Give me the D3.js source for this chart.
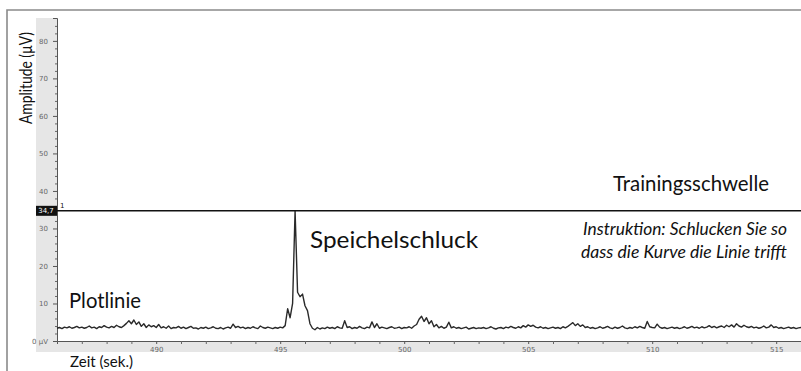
<!DOCTYPE html>
<html>
<head>
<meta charset="utf-8">
<script src="https://cdn.jsdelivr.net/npm/d3@7"></script>
<style>
  body { margin: 0; background: #fff; }
  svg { display: block; }
  .tick text { font-family: "DejaVu Sans", sans-serif; font-size: 7px; fill: #666; }
  .lbl { font-family: Lato, "Open Sans", sans-serif; fill: #111; }
</style>
</head>
<body>
<div id="chart"></div>
<script>
// EMG amplitude trace, sampled every 0.1 s from 486.0 s
var startTime = 486.0, stepTime = 0.1;
var amplitude = [
  3.4,3.6,3.3,3.7,3.5,3.8,3.4,3.6,3.9,3.5,
  3.7,3.4,3.6,4.0,3.5,3.7,3.3,3.8,3.6,4.1,
  3.7,3.5,3.9,3.6,4.2,3.8,3.6,4.1,4.7,5.4,
  4.6,5.6,4.4,5.1,3.9,4.6,3.6,4.3,3.8,4.1,
  3.6,4.4,3.5,3.8,3.4,4.0,3.3,3.6,3.5,3.9,
  3.4,3.7,3.3,3.6,3.9,3.4,3.5,3.2,3.6,3.4,
  3.7,3.3,3.5,3.8,3.4,3.3,3.6,3.2,3.5,3.7,
  3.4,4.5,3.6,3.9,3.5,3.7,3.3,3.6,3.4,3.8,
  3.5,3.3,4.0,3.6,3.4,3.7,3.5,3.3,3.6,3.4,
  3.7,3.5,4.1,8.6,6.2,10.0,34.7,13.0,11.8,12.5,
  9.4,8.1,4.6,3.4,3.0,3.6,3.2,3.5,3.3,3.7,
  3.4,3.6,3.3,3.8,3.5,3.4,5.4,3.6,3.8,3.3,
  3.6,3.4,3.9,3.5,3.3,3.7,3.5,5.1,3.6,4.6,
  3.4,3.7,3.5,3.3,3.6,3.8,3.4,3.5,3.7,3.3,
  3.6,3.5,3.8,3.4,4.0,4.4,5.8,6.6,5.2,6.2,
  4.6,5.4,3.8,4.4,3.5,3.9,3.4,3.7,5.0,3.5,
  3.8,3.4,3.6,3.3,3.5,3.7,3.2,3.4,3.6,3.3,
  3.5,3.4,3.6,3.3,3.5,3.8,3.4,3.2,3.5,3.6,
  3.3,3.7,3.5,3.9,3.6,3.4,3.8,3.5,4.1,3.7,
  4.3,3.9,4.2,3.7,3.5,3.8,3.4,3.6,3.3,3.5,
  3.7,3.4,3.6,3.3,3.8,3.5,3.9,4.4,4.9,4.1,
  4.6,3.9,4.3,3.6,3.8,3.4,3.6,3.3,3.5,3.8,
  3.4,3.6,3.9,3.5,3.3,3.7,3.4,3.6,4.0,3.5,
  3.3,3.6,3.4,3.8,3.5,3.9,3.6,3.4,5.2,3.8,
  3.6,3.5,4.5,3.7,3.4,3.6,3.3,3.5,3.7,3.4,
  3.6,3.3,3.5,3.8,3.4,3.6,3.9,3.5,3.7,3.4,
  3.8,3.5,3.7,4.1,3.6,3.9,3.5,3.8,4.0,3.6,
  4.2,3.8,4.3,3.7,4.6,4.0,3.7,4.2,3.8,3.6,
  3.9,3.5,3.7,3.4,3.6,4.0,3.5,3.7,4.3,3.6,
  3.8,3.4,3.6,3.3,3.5,3.7,3.4,3.6,3.3,3.5,
  3.6
];
var threshold = 34.7;
var yTicks = [0, 10, 20, 30, 40, 50, 60, 70, 80];
var yMinor = [2,4,6,8,12,14,16,18,22,24,26,28,32,34,36,38,42,44,46,48,52,54,56,58,62,64,66,68,72,74,76,78,82,84];
var xTicks = [490, 495, 500, 505, 510, 515];
var xMinor = [487,488,489,491,492,493,494,496,497,498,499,501,502,503,504,506,507,508,509,511,512,513,514,516];

var width = 801, height = 371;
var plotLeft = 57, plotRight = 801, plotTop = 18, plotBottom = 341, bandLeft = 36, bandBottom = 352;

var svg = d3.select("#chart").append("svg")
    .attr("width", width)
    .attr("height", height);

var x = d3.scaleLinear().domain([486, 516]).range([plotLeft, plotRight]);
var y = d3.scaleLinear().domain([0, 86.1]).range([plotBottom, plotTop]);

// grey axis bands
svg.append("rect").attr("x", bandLeft).attr("y", plotTop)
    .attr("width", plotLeft - bandLeft).attr("height", bandBottom - plotTop).attr("fill", "#e6e6e6");
svg.append("rect").attr("x", bandLeft).attr("y", plotBottom)
    .attr("width", plotRight - bandLeft).attr("height", bandBottom - plotBottom).attr("fill", "#e6e6e6");

// outer frame
svg.append("path")
    .attr("d", "M7,371 V10 H801")
    .attr("fill", "none")
    .attr("stroke", "#8a8a8a")
    .attr("stroke-width", 1.6);

// y axis
var yAxis = svg.append("g")
    .attr("transform", "translate(" + plotLeft + ",0)")
    .call(d3.axisLeft(y).tickValues(yTicks).tickSize(4).tickPadding(5)
      .tickFormat(function(d) { return d === 0 ? "0 µV" : d; }));
yAxis.select(".domain").attr("stroke", "#555");
yAxis.selectAll(".tick line").attr("stroke", "#555");
svg.append("g")
    .attr("transform", "translate(" + plotLeft + ",0)")
    .call(d3.axisLeft(y).tickValues(yMinor).tickSize(2).tickFormat(""))
    .call(function(g) { g.select(".domain").remove(); g.selectAll("line").attr("stroke", "#666"); });

// x axis
var xAxis = svg.append("g")
    .attr("transform", "translate(0," + plotBottom + ")")
    .call(d3.axisBottom(x).tickValues(xTicks).tickSize(3).tickPadding(3));
xAxis.select(".domain").attr("stroke", "#555");
xAxis.selectAll(".tick line").attr("stroke", "#555");
svg.append("g")
    .attr("transform", "translate(0," + plotBottom + ")")
    .call(d3.axisBottom(x).tickValues(xMinor).tickSize(3).tickFormat(""))
    .call(function(g) { g.select(".domain").remove(); g.selectAll("line").attr("stroke", "#666"); });

// signal
var line = d3.line()
    .x(function(d, i) { return x(startTime + i * stepTime); })
    .y(function(d) { return y(d); });

svg.append("path")
    .datum(amplitude)
    .attr("fill", "none")
    .attr("stroke", "#2a2a2a")
    .attr("stroke-width", 1.4)
    .attr("stroke-linejoin", "round")
    .attr("d", line);

// threshold line + marker
svg.append("line")
    .attr("x1", plotLeft).attr("x2", plotRight)
    .attr("y1", y(threshold)).attr("y2", y(threshold))
    .attr("stroke", "#111").attr("stroke-width", 1.5);
svg.append("rect")
    .attr("x", bandLeft).attr("y", y(threshold) - 5).attr("width", plotLeft - bandLeft).attr("height", 10)
    .attr("fill", "#111");
svg.append("text")
    .attr("x", 46).attr("y", y(threshold) + 2.5)
    .attr("text-anchor", "middle")
    .style("font-family", "DejaVu Sans, sans-serif").style("font-size", "7px").attr("fill", "#fff")
    .text(String(threshold).replace(".", ","));
svg.append("text")
    .attr("x", 60).attr("y", y(threshold) - 3)
    .style("font-family", "DejaVu Sans, sans-serif").style("font-size", "7px").attr("fill", "#111")
    .text("1");

// labels
svg.append("text").attr("class", "lbl")
    .attr("transform", "translate(32,78) rotate(-90)")
    .attr("text-anchor", "middle")
    .attr("textLength", 92).attr("lengthAdjust", "spacingAndGlyphs")
    .style("font-size", "16.5px")
    .text("Amplitude (µV)");
svg.append("text").attr("class", "lbl")
    .attr("x", 70).attr("y", 367)
    .attr("textLength", 63).attr("lengthAdjust", "spacingAndGlyphs")
    .style("font-size", "16px")
    .text("Zeit (sek.)");
svg.append("text").attr("class", "lbl")
    .attr("x", 69).attr("y", 308)
    .attr("textLength", 72).attr("lengthAdjust", "spacingAndGlyphs")
    .style("font-size", "21px")
    .text("Plotlinie");
svg.append("text").attr("class", "lbl")
    .attr("x", 310).attr("y", 248)
    .attr("textLength", 168).attr("lengthAdjust", "spacingAndGlyphs")
    .style("font-size", "23px")
    .text("Speichelschluck");
svg.append("text").attr("class", "lbl")
    .attr("x", 613).attr("y", 191)
    .attr("textLength", 156).attr("lengthAdjust", "spacingAndGlyphs")
    .style("font-size", "20.5px")
    .text("Trainingsschwelle");
svg.append("text").attr("class", "lbl")
    .attr("x", 787).attr("y", 235)
    .attr("text-anchor", "end")
    .attr("textLength", 204).attr("lengthAdjust", "spacingAndGlyphs")
    .style("font-size", "17px").style("font-style", "italic")
    .text("Instruktion: Schlucken Sie so");
svg.append("text").attr("class", "lbl")
    .attr("x", 787).attr("y", 258)
    .attr("text-anchor", "end")
    .attr("textLength", 206).attr("lengthAdjust", "spacingAndGlyphs")
    .style("font-size", "17px").style("font-style", "italic")
    .text("dass die Kurve die Linie trifft");
</script>
</body>
</html>
